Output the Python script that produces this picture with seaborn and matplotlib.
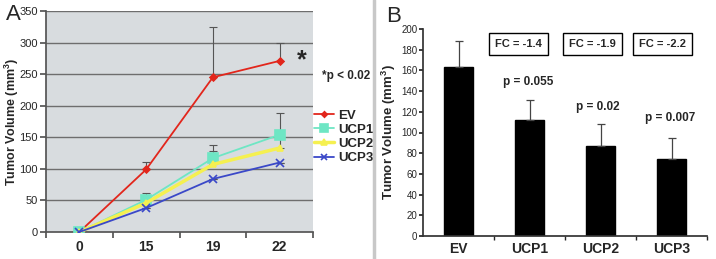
import matplotlib
matplotlib.use("Agg")
import matplotlib.pyplot as plt
import seaborn as sns
import numpy as np
import pandas as pd

sns.set_theme(style="white")
plt.rcParams['font.family'] = ['Liberation Sans', 'DejaVu Sans']

# Panel A data
days = ["0", "15", "19", "22"]
ev = [0, 99, 245, 271]
ev_err = [0, 12, 79, 28]
ucp1 = [0, 51, 117, 154]
ucp1_err = [0, 11, 21, 34]
ucp2 = [0, 46, 107, 133]
ucp2_err = [0, 8, 21, 20]
ucp3 = [0, 38, 84, 110]
ucp3_err = [0, 0, 0, 0]
series_names = ["EV", "UCP1", "UCP2", "UCP3"]

# Panel B data
groups = ["EV", "UCP1", "UCP2", "UCP3"]
bar_vals = [163, 112, 87, 74]
bar_err = [25, 19, 21, 21]
fc_labels = ["FC = -1.4", "FC = -1.9", "FC = -2.2"]
p_labels = ["p = 0.055", "p = 0.02", "p = 0.007"]

fig = plt.figure(figsize=(7.16, 2.59), dpi=100)
W, H = 716, 259
axA = fig.add_axes([46 / W, 1 - 232 / H, (313 - 46) / W, (232 - 11) / H])
axB = fig.add_axes([423 / W, 1 - 236 / H, (707 - 423) / W, (236 - 29) / H])

# ---- Panel A ----
rows = []
for name, vals in zip(series_names, [ev, ucp1, ucp2, ucp3]):
    for i, v in enumerate(vals):
        rows.append({"series": name, "x": i, "y": v})
dfA = pd.DataFrame(rows)
colors = {"EV": "#e2261c", "UCP1": "#6ee6c4", "UCP2": "#f5f050", "UCP3": "#3a48c8"}
markers = {"EV": "D", "UCP1": "s", "UCP2": "^", "UCP3": "x"}
msizes = {"EV": 3.5, "UCP1": 6.5, "UCP2": 5, "UCP3": 6}
lws = {"EV": 1.3, "UCP1": 1.3, "UCP2": 2.5, "UCP3": 1.3}

axA.set_facecolor("#d8dcdf")
for v in range(50, 351, 50):
    axA.axhline(v, color="#6e6e6e", lw=1.0, zorder=0)

for name, vals, errs in zip(series_names, [ev, ucp1, ucp2, ucp3],
                            [ev_err, ucp1_err, ucp2_err, ucp3_err]):
    x = np.arange(len(vals))
    axA.errorbar(x[1:], vals[1:], yerr=[np.zeros(3), errs[1:]], fmt="none",
                 ecolor="#555555", elinewidth=0.8, capsize=3, capthick=0.8, zorder=2)

for name in series_names:
    sub = dfA[dfA.series == name]
    sns.lineplot(data=sub, x="x", y="y", ax=axA, color=colors[name], lw=lws[name],
                 marker=markers[name], markersize=msizes[name],
                 markeredgecolor=colors[name], mew=1.2, label=name, zorder=3)

axA.set_xlim(-0.5, 3.5)
axA.set_ylim(0, 350)
axA.set_yticks(range(0, 351, 50))
axA.set_xticks([-0.5, 0.5, 1.5, 2.5, 3.5], minor=False)
axA.set_xticklabels([])
axA.set_xticks(range(4), minor=True)
axA.set_xticklabels(days, minor=True, fontsize=10, fontweight="bold")
axA.tick_params(axis="x", which="major", length=4, color="#555555", direction="out", bottom=True)
axA.tick_params(axis="x", which="minor", length=0, pad=6)
axA.tick_params(axis="y", labelsize=8, length=4, direction="out", left=True, color="#555555", pad=2)
axA.set_xlabel("")
axA.set_ylabel("Tumor Volume (mm$^\\mathregular{3}$)", fontsize=9, fontweight="bold")
axA.yaxis.set_label_coords(-0.095, 0.5)
for s in ["top", "right"]:
    axA.spines[s].set_visible(False)
axA.spines["left"].set_color("#555555")
axA.spines["bottom"].set_color("#555555")
leg = axA.legend(loc="upper left", bbox_to_anchor=(1.005, 0.555), frameon=False,
                 prop={"weight": "bold", "size": 9.5},
                 handlelength=1.5, handletextpad=0.3, labelspacing=0.15,
                 borderaxespad=0, borderpad=0, markerscale=0.8)
axA.text(3.33, 272, "*", fontsize=18, fontweight="bold", ha="center", va="center")
fig.text(322 / W, 1 - 76 / H, "*p < 0.02", fontsize=8.5, fontweight="bold", ha="left", va="center")
fig.text(6 / W, 1 - 14 / H, "A", fontsize=16, ha="left", va="center")

# separator
fig.add_artist(plt.Line2D([374 / W, 374 / W], [0, 1], color="#c8c8c8", lw=2.5))

# ---- Panel B ----
dfB = pd.DataFrame({"group": groups, "val": bar_vals})
sns.barplot(data=dfB, x="group", y="val", ax=axB, color="black", width=0.4,
            edgecolor="black", errorbar=None)
axB.errorbar(range(4), bar_vals, yerr=[np.zeros(4), bar_err], fmt="none",
             ecolor="#444444", elinewidth=0.9, capsize=3, capthick=0.9)
axB.set_ylim(0, 200)
axB.set_xlim(-0.5, 3.5)
axB.set_yticks(range(0, 201, 20))
axB.tick_params(axis="y", labelsize=7, length=3, direction="out", left=True, pad=1)
axB.tick_params(axis="x", labelsize=10, length=0, pad=4)
for lbl in axB.get_xticklabels():
    lbl.set_fontweight("bold")
axB.set_xticks([0.5, 1.5, 2.5, 3.5], minor=True)
axB.tick_params(axis="x", which="minor", length=3, direction="out", bottom=True)
axB.set_xlabel("")
axB.set_ylabel("Tumor Volume (mm$^\\mathregular{3}$)", fontsize=9.5, fontweight="bold")
axB.yaxis.set_label_coords(-0.088, 0.5)
for s in ["top", "right"]:
    axB.spines[s].set_visible(False)
axB.spines["left"].set_color("#333333")
axB.spines["bottom"].set_color("#333333")

fc_x = [0.85, 1.89, 2.87]
for x, t in zip(fc_x, fc_labels):
    axB.text(x, 185.5, t, fontsize=8, fontweight="bold", ha="center", va="center",
             bbox=dict(boxstyle="square,pad=0.55", fc="white", ec="black", lw=1.0))
p_pos = [(0.98, 149), (1.96, 125), (2.98, 114)]
for (x, y), t in zip(p_pos, p_labels):
    axB.text(x, y, t, fontsize=8.5, fontweight="bold", ha="center", va="center")
fig.text(386 / W, 1 - 16 / H, "B", fontsize=16, ha="left", va="center")

fig.savefig("out.png", dpi=100)
